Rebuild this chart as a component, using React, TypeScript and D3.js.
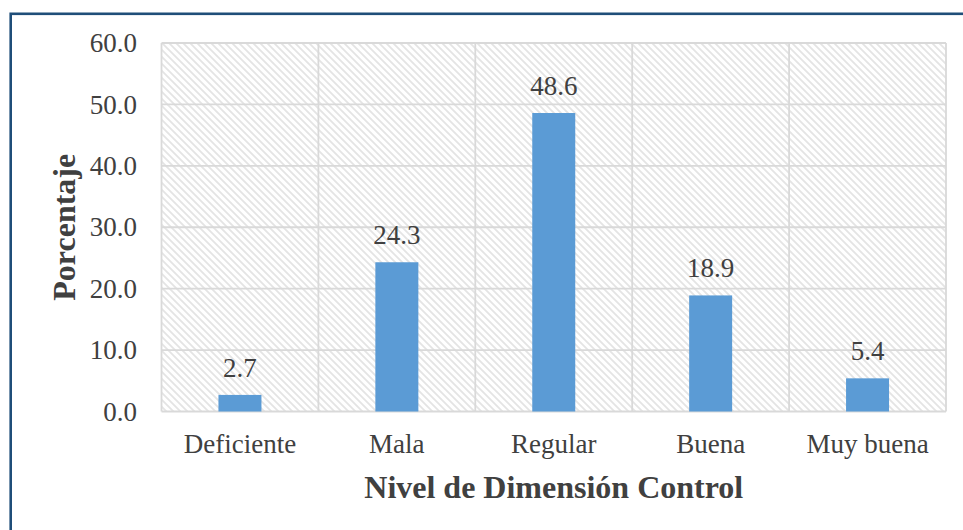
import React from "react";
import * as d3 from "d3";

const categories: string[] = ["Deficiente", "Mala", "Regular", "Buena", "Muy buena"];
const values: number[] = [2.7, 24.3, 48.6, 18.9, 5.4];
const yTicks: number[] = [0, 10, 20, 30, 40, 50, 60];
const xTitle = "Nivel de Dimensión Control";
const yTitle = "Porcentaje";

const W = 963;
const H = 530;
const plot = { left: 161.5, right: 946, top: 43, bottom: 411.5 };
const FONT = "'Liberation Serif', 'Times New Roman', serif";
const TEXT = "#404040";
const GRID = "#d9d9d9";
const BAR = "#5B9BD5";

export default function App() {
  const x = d3
    .scaleBand<string>()
    .domain(categories)
    .range([plot.left, plot.right])
    .paddingInner(0.726)
    .paddingOuter(0.363);
  const y = d3.scaleLinear().domain([0, 60]).range([plot.bottom, plot.top]);
  const step = x.step();
  const vLines = d3.range(categories.length + 1).map((i) => plot.left + i * step);

  return (
    <svg
      width={W}
      height={H}
      style={{ position: "absolute", left: 0, top: 0, display: "block", background: "#fff" }}
    >
      <defs>
        <pattern id="hatch" width={7} height={7} patternUnits="userSpaceOnUse">
          <rect width={7} height={7} fill="#ffffff" />
          <path
            d="M-2,-2 L9,9 M-2,5 L2,9 M5,-2 L9,2"
            stroke="#e4e4e4"
            strokeWidth={1.8}
          />
        </pattern>
      </defs>
      <rect x={10.7} y={13.8} width={1000} height={600} fill="none" stroke="#1F4E79" strokeWidth={2.6} />

      <rect
        x={plot.left}
        y={plot.top}
        width={plot.right - plot.left}
        height={plot.bottom - plot.top}
        fill="url(#hatch)"
      />
      {yTicks.map((t) => (
        <line key={"h" + t} x1={plot.left} x2={plot.right} y1={y(t)} y2={y(t)} stroke={GRID} strokeWidth={1.8} />
      ))}
      {vLines.map((vx, i) => (
        <line key={"v" + i} x1={vx} x2={vx} y1={plot.top} y2={plot.bottom} stroke={GRID} strokeWidth={1.8} />
      ))}

      {categories.map((c, i) => (
        <rect
          key={c}
          x={x(c)}
          y={y(values[i])}
          width={x.bandwidth()}
          height={y(0) - y(values[i])}
          fill={BAR}
        />
      ))}

      {categories.map((c, i) => (
        <text
          key={"l" + c}
          x={(x(c) as number) + x.bandwidth() / 2}
          y={y(values[i]) - 18}
          textAnchor="middle"
          fontFamily={FONT}
          fontSize={27}
          fill={TEXT}
        >
          {values[i].toFixed(1)}
        </text>
      ))}

      {yTicks.map((t) => (
        <text
          key={"t" + t}
          x={137}
          y={y(t)}
          dy="0.34em"
          textAnchor="end"
          fontFamily={FONT}
          fontSize={27}
          fill={TEXT}
        >
          {t.toFixed(1)}
        </text>
      ))}

      {categories.map((c) => (
        <text
          key={"c" + c}
          x={(x(c) as number) + x.bandwidth() / 2}
          y={453}
          textAnchor="middle"
          fontFamily={FONT}
          fontSize={27}
          fill={TEXT}
        >
          {c}
        </text>
      ))}

      <text
        x={(plot.left + plot.right) / 2}
        y={498}
        textAnchor="middle"
        fontFamily={FONT}
        fontSize={32}
        fontWeight="bold"
        fill={TEXT}
      >
        {xTitle}
      </text>
      <text
        transform={`translate(75, ${(plot.top + plot.bottom) / 2}) rotate(-90)`}
        textAnchor="middle"
        fontFamily={FONT}
        fontSize={32}
        fontWeight="bold"
        fill={TEXT}
      >
        {yTitle}
      </text>
    </svg>
  );
}
